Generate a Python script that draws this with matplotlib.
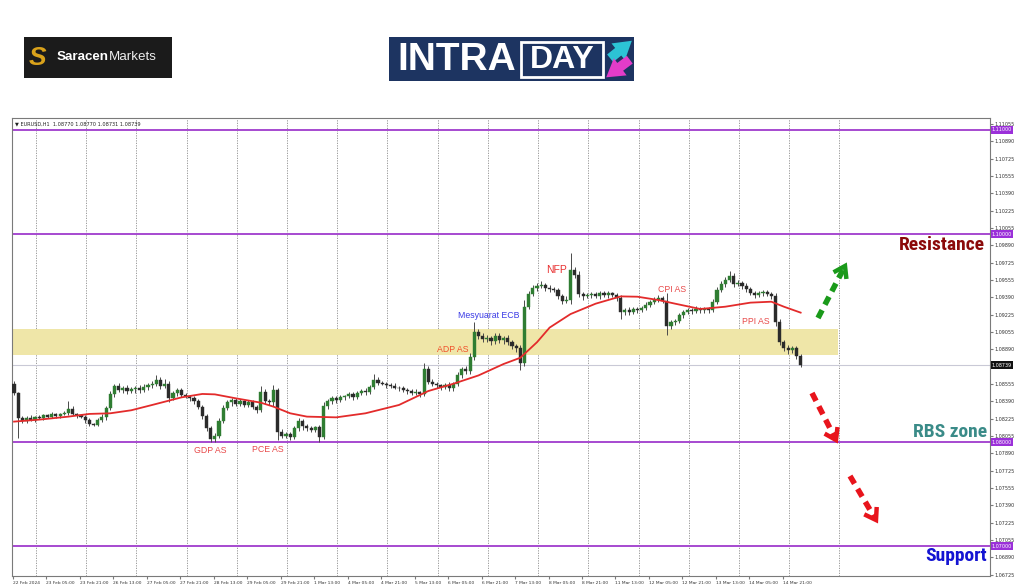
import matplotlib
matplotlib.use('Agg')
import matplotlib.pyplot as plt
from matplotlib import font_manager
from matplotlib.patches import Rectangle, FancyArrowPatch
import numpy as np

# ---------------- data (EURUSD, 2-hour candles) ----------------
open_first = 1.08560
closes = [
    1.08470, 1.08230, 1.08200, 1.08235, 1.08215, 1.08240, 1.08230, 1.08255, 1.08245, 1.08265,
    1.08250, 1.08270, 1.08280, 1.08320, 1.08270, 1.08255, 1.08245, 1.08210, 1.08170, 1.08165,
    1.08215, 1.08240, 1.08330, 1.08460, 1.08540, 1.08500, 1.08520, 1.08490, 1.08505, 1.08520,
    1.08500, 1.08530, 1.08545, 1.08560, 1.08600, 1.08540, 1.08560, 1.08420, 1.08470, 1.08500,
    1.08450, 1.08440, 1.08420, 1.08390, 1.08340, 1.08250, 1.08130, 1.08030, 1.08060, 1.08200,
    1.08330, 1.08380, 1.08400, 1.08370, 1.08390, 1.08360, 1.08380, 1.08340, 1.08310, 1.08480,
    1.08390, 1.08380, 1.08500, 1.08100, 1.08060, 1.08080, 1.08050, 1.08130, 1.08200, 1.08150,
    1.08130, 1.08120, 1.08140, 1.08050, 1.08350, 1.08390, 1.08420, 1.08400, 1.08430, 1.08440,
    1.08460, 1.08430, 1.08470, 1.08490, 1.08480, 1.08530, 1.08600, 1.08570, 1.08560, 1.08545,
    1.08540, 1.08520, 1.08515, 1.08500, 1.08490, 1.08470, 1.08480, 1.08460, 1.08700, 1.08580,
    1.08560, 1.08545, 1.08530, 1.08550, 1.08520, 1.08560, 1.08640, 1.08700, 1.08680, 1.08820,
    1.09060, 1.09020, 1.08990, 1.09000, 1.08970, 1.09020, 1.08980, 1.09000, 1.08960, 1.08920,
    1.08900, 1.08760, 1.09300, 1.09420, 1.09480, 1.09500, 1.09510, 1.09480, 1.09470, 1.09460,
    1.09400, 1.09360, 1.09370, 1.09650, 1.09610, 1.09420, 1.09400, 1.09410, 1.09420, 1.09400,
    1.09430, 1.09410, 1.09430, 1.09410, 1.09380, 1.09250, 1.09270, 1.09250, 1.09280, 1.09270,
    1.09290, 1.09320, 1.09350, 1.09370, 1.09380, 1.09360, 1.09120, 1.09150, 1.09160, 1.09220,
    1.09250, 1.09270, 1.09260, 1.09280, 1.09265, 1.09280, 1.09270, 1.09350, 1.09460, 1.09520,
    1.09560, 1.09600, 1.09520, 1.09530, 1.09500, 1.09470, 1.09430, 1.09410, 1.09430, 1.09440,
    1.09420, 1.09400, 1.09150, 1.08960, 1.08900, 1.08880, 1.08900, 1.08830, 1.08739,
]
# upper / lower wick lengths in points (1e-5) beyond the candle body
up_pts = [
    0, 12, 20, 15, 22, 12, 18, 10, 15, 20,
    15, 12, 20, 0, 25, 10, 15, 12, 20, 15,
    20, 25, 20, 30, 0, 25, 20, 30, 25, 20,
    30, 25, 20, 30, 0, 25, 0, 30, 25, 20,
    20, 25, 15, 20, 25, 20, 15, 20, 30, 35,
    30, 25, 20, 25, 20, 15, 20, 25, 20, 0,
    30, 25, 0, 20, 25, 20, 15, 25, 30, 20,
    20, 25, 15, 20, 30, 25, 20, 25, 20, 15,
    20, 25, 20, 15, 25, 20, 0, 25, 20, 15,
    20, 25, 15, 20, 15, 20, 25, 15, 0, 30,
    25, 20, 15, 20, 25, 20, 30, 25, 30, 35,
    0, 30, 25, 30, 20, 25, 30, 20, 25, 20,
    25, 30, 0, 35, 30, 25, 0, 20, 25, 20,
    25, 20, 30, 0, 35, 30, 20, 25, 20, 25,
    20, 25, 20, 15, 25, 30, 20, 25, 20, 15,
    20, 25, 20, 25, 30, 20, 0, 25, 20, 25,
    20, 15, 20, 25, 20, 15, 20, 25, 30, 25,
    30, 0, 25, 30, 20, 25, 20, 25, 20, 25,
    20, 25, 30, 35, 25, 30, 25, 20, 15,
]
dn_pts = [
    20, 0, 15, 20, 12, 18, 10, 20, 15, 12,
    18, 15, 10, 20, 15, 20, 12, 25, 15, 0,
    15, 20, 25, 20, 25, 20, 30, 25, 20, 30,
    25, 20, 30, 25, 20, 30, 25, 35, 20, 25,
    20, 15, 25, 20, 25, 30, 25, 0, 30, 25,
    20, 25, 30, 20, 25, 20, 25, 20, 30, 25,
    20, 25, 30, 0, 25, 20, 0, 25, 20, 30,
    25, 20, 25, 0, 25, 30, 20, 25, 20, 25,
    20, 25, 15, 20, 25, 20, 25, 20, 15, 25,
    20, 15, 25, 20, 25, 20, 15, 25, 20, 25,
    20, 25, 30, 20, 25, 30, 25, 20, 30, 25,
    30, 25, 30, 25, 35, 30, 25, 35, 30, 25,
    30, 0, 30, 25, 20, 25, 20, 25, 30, 20,
    25, 30, 25, 0, 30, 25, 30, 20, 25, 20,
    25, 20, 25, 20, 25, 0, 30, 25, 20, 25,
    20, 25, 20, 25, 20, 25, 0, 30, 25, 20,
    25, 20, 25, 20, 25, 20, 25, 20, 25, 20,
    25, 20, 25, 20, 25, 30, 20, 25, 20, 25,
    20, 25, 35, 30, 25, 30, 25, 30, 20,
]
spike_highs = {0: 1.08585, 13: 1.08390, 24: 1.08560, 34: 1.08645, 36: 1.08610, 59: 1.08535,
               62: 1.08550, 86: 1.08650, 98: 1.08760, 110: 1.09150, 122: 1.09365, 126: 1.09545,
               133: 1.09815, 156: 1.09433, 171: 1.09640}
spike_lows = {1: 1.08040, 19: 1.08150, 47: 1.08003, 63: 1.08019, 66: 1.08020, 73: 1.08003,
              121: 1.08692, 133: 1.09330, 145: 1.09180, 156: 1.09030}

ma_k = [0, 6, 13, 18, 23, 28, 33, 40, 45, 48, 53, 59, 62, 66, 70, 77, 84, 92, 99, 105, 111,
        117, 121, 125, 128, 133, 139, 145, 149, 154, 158, 164, 170, 176, 181, 184, 188]
ma_vals = [1.08196, 1.08215, 1.08244, 1.08270, 1.08276, 1.08305, 1.08356, 1.08429, 1.08462,
           1.08458, 1.08420, 1.08378, 1.08340, 1.08276, 1.08244, 1.08237, 1.08276, 1.08356,
           1.08490, 1.08560, 1.08640, 1.08750, 1.08810, 1.08960, 1.09100, 1.09230, 1.09330,
           1.09400, 1.09397, 1.09365, 1.09330, 1.09279, 1.09301, 1.09340, 1.09349, 1.09301,
           1.09244]

xtick_labels = ['22 Feb 2024', '23 Feb 05:00', '23 Feb 21:00', '26 Feb 13:00', '27 Feb 05:00',
                '27 Feb 21:00', '28 Feb 13:00', '29 Feb 05:00', '29 Feb 21:00', '1 Mar 13:00',
                '4 Mar 05:00', '4 Mar 21:00', '5 Mar 13:00', '6 Mar 05:00', '6 Mar 21:00',
                '7 Mar 13:00', '8 Mar 05:00', '8 Mar 21:00', '11 Mar 13:00', '12 Mar 05:00',
                '12 Mar 21:00', '13 Mar 13:00', '14 Mar 05:00', '14 Mar 21:00']
ytick_vals = [1.11055, 1.10890, 1.10725, 1.10555, 1.10390, 1.10225, 1.10055, 1.09890, 1.09725,
              1.09555, 1.09390, 1.09225, 1.09055, 1.08890, 1.08555, 1.08390, 1.08225, 1.08055,
              1.07890, 1.07725, 1.07555, 1.07390, 1.07225, 1.07055, 1.06890, 1.06725]
level_lines = [1.11000, 1.10000, 1.08000, 1.07000]
last_price = 1.08739
zone_low, zone_high = 1.08837, 1.09087
header = '\u25BC EURUSD,H1  1.08770 1.08770 1.08731 1.08739'
event_labels = ['GDP AS', 'PCE AS', 'ADP AS', 'Mesyuarat ECB', 'NFP', 'CPI AS', 'PPI AS']
zone_labels = ['Resistance', 'RBS zone', 'Support']

# ---------------- helpers ----------------
def pick(*names):
    for n in names:
        try:
            font_manager.findfont(font_manager.FontProperties(family=n), fallback_to_default=False)
            return n
        except Exception:
            pass
    return 'DejaVu Sans'

NARROW = pick('Liberation Sans Narrow', 'Roboto Condensed', 'Liberation Sans')
ARIAL = pick('Liberation Sans', 'DejaVu Sans')

W, H = 1024, 587
PX_PER_BAR = 2.092
PX_PER_PRICE = 10400.0

def px2x(px):
    return (px - 13) / PX_PER_BAR

def px2y(py):
    return 1.11 - (py - 130) / PX_PER_PRICE

fig = plt.figure(figsize=(W / 100, H / 100), dpi=100)
fig.patch.set_facecolor('white')

# background pixel axes (logos)
bg = fig.add_axes([0, 0, 1, 1], zorder=0)
bg.set_xlim(0, W); bg.set_ylim(H, 0); bg.axis('off')

# chart axes
L, R, T, B = 12, 990, 118, 576
ax = fig.add_axes([L / W, 1 - B / H, (R - L) / W, (B - T) / H], zorder=2)
ax.set_facecolor('white')
ax.set_xlim(px2x(L), px2x(R))
ax.set_ylim(px2y(B), px2y(T))
for s in ax.spines.values():
    s.set_color('#7a7a7a'); s.set_linewidth(0.8)

# grid (day separators)
for j in range(17):
    ax.axvline(11 + 24 * j, color='#8c8c8c', lw=0.6, ls=(0, (1.5, 1.5)), zorder=1)

# zone
ax.add_patch(Rectangle((px2x(L), zone_low), px2x(838) - px2x(L), zone_high - zone_low,
                       fc='#efe6a8', ec='none', zorder=1.2))

# levels
for lv in level_lines:
    ax.axhline(lv, color='#a64ad0', lw=1.4, zorder=2)
ax.axhline(last_price, color='#c9c9d6', lw=0.8, zorder=1.5)

# candles
N = len(closes)
opens = [open_first] + closes[:-1]
xs = np.array([2 * k + 0.5 for k in range(N)])
hi = [spike_highs.get(k, max(opens[k], closes[k]) + up_pts[k] * 1e-5) for k in range(N)]
lo = [spike_lows.get(k, min(opens[k], closes[k]) - dn_pts[k] * 1e-5) for k in range(N)]
ax.vlines(xs, lo, hi, color='#4a4a4a', lw=0.7, zorder=3)
bottoms = [min(o, c) for o, c in zip(opens, closes)]
heights = [max(abs(c - o), 0.00005) for o, c in zip(opens, closes)]
colors = ['#2f7d32' if c >= o else '#2b2b2b' for o, c in zip(opens, closes)]
ax.bar(xs, heights, bottom=bottoms, width=1.5, color=colors, edgecolor=colors, lw=0.3, zorder=3.2)

# moving average
ax.plot([2 * k + 0.5 for k in ma_k], ma_vals, color='#e32b2b', lw=1.3, zorder=4)

# ticks
ax.set_xticks([16 * i for i in range(len(xtick_labels))])
ax.set_xticklabels(xtick_labels, ha='left')
ax.tick_params(axis='x', labelsize=3.2, length=2, pad=1.5, colors='#7a7a7a', labelcolor='#333333')
ax.yaxis.tick_right()
ax.set_yticks(ytick_vals)
ax.set_yticklabels(['%.5f' % v for v in ytick_vals])
ax.tick_params(axis='y', labelsize=3.5, length=2, pad=1.5, colors='#7a7a7a', labelcolor='#333333')

ytr = ax.get_yaxis_transform()
for lv in level_lines:
    ax.text(1.002, lv, '%.5f' % lv, transform=ytr, fontsize=3.5, color='white', va='center',
            ha='left', bbox=dict(boxstyle='square,pad=0.25', fc='#9b30d9', ec='none'), zorder=6,
            clip_on=False)
ax.text(1.002, last_price, '%.5f' % last_price, transform=ytr, fontsize=3.5, color='white',
        va='center', ha='left', bbox=dict(boxstyle='square,pad=0.25', fc='#111111', ec='none'),
        zorder=6, clip_on=False)

ax.text(0.003, 0.992, header, transform=ax.transAxes, fontsize=3.6, va='top', ha='left',
        color='#222222', zorder=6)

# event labels
ev_pos = [(210, 451), (268, 449), (453, 349), (489, 316), (556, 270), (672, 289), (756, 322)]
ev_col = ['#e84a4a', '#e84a4a', '#f0502a', '#3b3be6', '#e83030', '#e84a4a', '#e84a4a']
ev_size = [6.3, 6.3, 6.3, 6.3, 7.5, 6.3, 6.3]
for lab, (px, py), c, fs in zip(event_labels, ev_pos, ev_col, ev_size):
    ax.text(px2x(px), px2y(py), lab, color=c, fontsize=fs, ha='center', va='center',
            family=ARIAL, zorder=6)

# zone labels
zl_pos = [(985, 245), (987, 432), (987, 556)]
zl_col = ['#8b0a0a', '#3a8b88', '#1414d2']
for lab, (px, py), c in zip(zone_labels, zl_pos, zl_col):
    ax.text(px2x(px), px2y(py), lab, color=c, fontsize=14, fontweight='bold', ha='right',
            va='center', family=NARROW, zorder=6)

# overlay for dashed arrows
ov = fig.add_axes([0, 0, 1, 1], zorder=5)
ov.set_xlim(0, W); ov.set_ylim(H, 0); ov.axis('off'); ov.patch.set_alpha(0)

def dashed_arrow(p0, p1, color):
    p0 = np.array(p0, float); p1 = np.array(p1, float)
    d = (p1 - p0) / np.linalg.norm(p1 - p0)
    n = np.array([-d[1], d[0]])
    ov.plot([p0[0], p1[0] - 3 * d[0]], [p0[1], p1[1] - 3 * d[1]], color=color, lw=4,
            ls=(0, (1.6, 1.1)), solid_capstyle='butt', dash_capstyle='butt')
    a = p1 - 9 * d + 6 * n
    b = p1 - 9 * d - 6 * n
    ov.plot([a[0], p1[0], b[0]], [a[1], p1[1], b[1]], color=color, lw=3.2,
            solid_joinstyle='miter')

dashed_arrow((818, 318), (845, 266), '#1a9a1a')
dashed_arrow((812, 393), (836, 440), '#e8141c')
dashed_arrow((850, 476), (876, 520), '#e8141c')

# ---------------- logos ----------------
bg.add_patch(Rectangle((24, 37), 148, 41, fc='#1b1b1b', ec='none'))
bg.text(37, 58, 'S', color='#d9a21b', fontsize=19, fontweight='heavy', ha='center', va='center',
        family=ARIAL, style='italic')
t1 = bg.text(57, 57.5, 'Saracen', color='white', fontsize=9.6, fontweight='bold', ha='left',
             va='center', family=ARIAL)
fig.canvas.draw()
bb = t1.get_window_extent()
inv = bg.transData.inverted()
xend = inv.transform((bb.x1, bb.y0))[0]
bg.text(xend, 57.5, 'Markets', color='#eeeeee', fontsize=9.6, ha='left', va='center', family=ARIAL)

bg.add_patch(Rectangle((389, 37), 245, 44, fc='#1d3461', ec='none'))
bg.text(397, 60, 'INTRA', color='white', fontsize=28, fontweight='bold', ha='left', va='center',
        family=ARIAL)
bg.add_patch(Rectangle((521, 42), 82, 35, fc='none', ec='white', lw=2))
bg.text(562, 60, 'DAY', color='white', fontsize=23, fontweight='bold', ha='center', va='center',
        family=ARIAL)
bg.add_patch(FancyArrowPatch((608, 60), (634, 39), arrowstyle='simple,head_length=0.9,head_width=1.1,tail_width=0.5',
                             mutation_scale=14, color='#2cc3d5', lw=0))
bg.add_patch(FancyArrowPatch((632, 58), (604, 79), arrowstyle='simple,head_length=0.9,head_width=1.1,tail_width=0.5',
                             mutation_scale=14, color='#e33cc8', lw=0))

fig.savefig('out.png', dpi=100, facecolor='white')
